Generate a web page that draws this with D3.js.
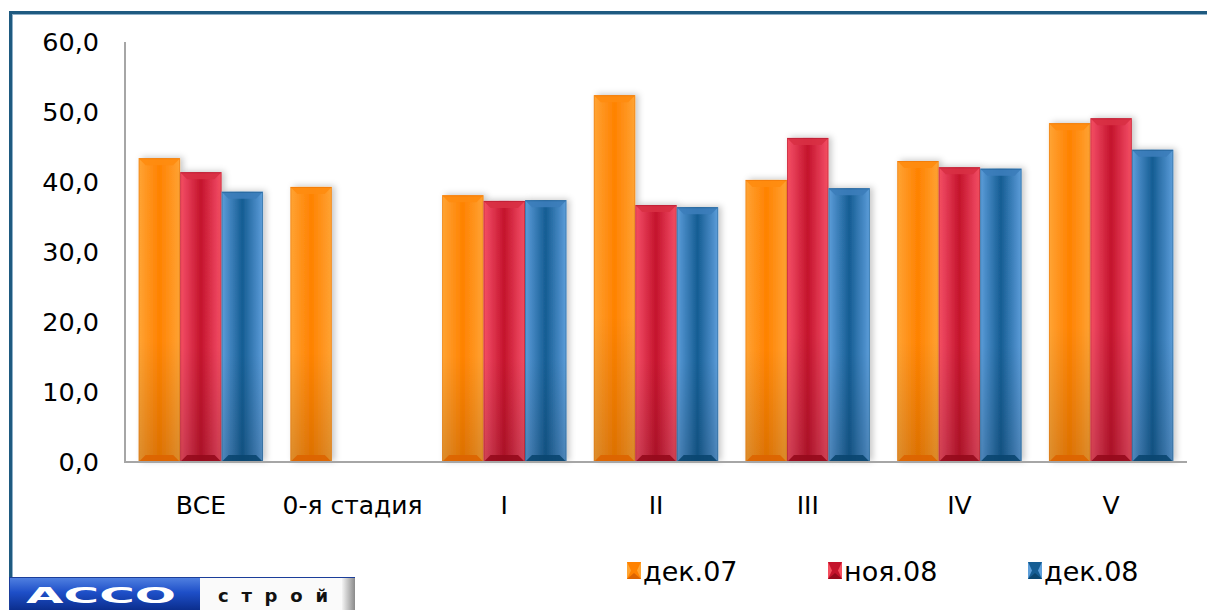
<!DOCTYPE html>
<html>
<head>
<meta charset="utf-8">
<script src="https://cdn.jsdelivr.net/npm/d3@7"></script>
<style>
  html, body { margin: 0; padding: 0; background: #fff; }
  svg { display: block; }
  text { font-family: "DejaVu Sans", Verdana, sans-serif; }
</style>
</head>
<body>
<svg id="chart" width="1207" height="610"></svg>
<script>
// Categories and series values
const categories = ["ВСЕ", "0-я стадия", "I", "II", "III", "IV", "V"];
const seriesNames = ["дек.07", "ноя.08", "дек.08"];
const dec07 = [43.4, 39.3, 38.1, 52.4, 40.3, 43.0, 48.4];
const nov08 = [41.4, null, 37.3, 36.7, 46.3, 42.1, 49.1];
const dec08 = [38.6, null, 37.4, 36.4, 39.1, 41.9, 44.6];
const yTicks = [0, 10, 20, 30, 40, 50, 60];

const seriesValues = [dec07, nov08, dec08];
const palette = [
  { edge: "#FFA533", mid: "#FF8200", top: "#FF8C10", bottom: "#DD6400", side: "#FF9A28" },
  { edge: "#F5505F", mid: "#C4142C", top: "#D83044", bottom: "#960A1C", side: "#E8405A" },
  { edge: "#5E9FDA", mid: "#155D93", top: "#3C7DBA", bottom: "#0A4670", side: "#4A8CC8" }
];

const svg = d3.select("#chart");
const defs = svg.append("defs");

// Beveled-bar gradients
palette.forEach((c, i) => {
  const g = defs.append("linearGradient").attr("id", "hg" + i)
    .attr("x1", "0").attr("x2", "1").attr("y1", "0").attr("y2", "0");
  g.append("stop").attr("offset", "0").attr("stop-color", c.edge);
  g.append("stop").attr("offset", "0.13").attr("stop-color", c.side);
  g.append("stop").attr("offset", "0.5").attr("stop-color", c.mid);
  g.append("stop").attr("offset", "0.87").attr("stop-color", c.side);
  g.append("stop").attr("offset", "1").attr("stop-color", c.edge);
  const v = defs.append("linearGradient").attr("id", "vg" + i)
    .attr("x1", "0").attr("x2", "0").attr("y1", "0").attr("y2", "1");
  v.append("stop").attr("offset", "0").attr("stop-color", "#fff").attr("stop-opacity", 0.0);
  v.append("stop").attr("offset", "0.6").attr("stop-color", "#000").attr("stop-opacity", 0.0);
  v.append("stop").attr("offset", "1").attr("stop-color", "#000").attr("stop-opacity", 0.14);
});
const shadow = defs.append("filter").attr("id", "shadow")
  .attr("x", "-30%").attr("y", "-10%").attr("width", "160%").attr("height", "120%");
shadow.append("feDropShadow").attr("dx", 3).attr("dy", -1)
  .attr("stdDeviation", 3).attr("flood-color", "#000").attr("flood-opacity", 0.22);

// Frame
svg.append("rect").attr("x", 10).attr("y", 11).attr("width", 1200).attr("height", 3).attr("fill", "#1E5A80");
svg.append("rect").attr("x", 13).attr("y", 14).attr("width", 1197).attr("height", 1).attr("fill", "#8FB0C8");
svg.append("rect").attr("x", 9).attr("y", 11).attr("width", 3).attr("height", 580).attr("fill", "#1E5A80");
svg.append("rect").attr("x", 12).attr("y", 14).attr("width", 1).attr("height", 577).attr("fill", "#8FB0C8");

// Scales
const plotLeft = 125, plotRight = 1187, plotTop = 42, plotBottom = 462;
const y = d3.scaleLinear().domain([0, 60]).range([plotBottom, plotTop]);
const x0 = d3.scaleBand().domain(categories).range([plotLeft, plotRight])
  .paddingInner(0.18).paddingOuter(0.09);
const x1 = d3.scaleBand().domain(d3.range(seriesNames.length)).range([0, x0.bandwidth()]);

// Y axis tick labels
const yAxis = d3.axisLeft(y).tickValues(yTicks).tickSize(0).tickPadding(26)
  .tickFormat(d => d3.format(".1f")(d).replace(".", ","));
const ya = svg.append("g").attr("transform", `translate(${plotLeft},0)`).call(yAxis);
ya.select(".domain").remove();
ya.selectAll("text").attr("font-size", 25.5).attr("fill", "#000")
  .attr("font-family", "DejaVu Sans, Verdana, sans-serif");

// Bars
const barsG = svg.append("g");
categories.forEach((cat, ci) => {
  seriesValues.forEach((vals, si) => {
    const v = vals[ci];
    if (v == null) return;
    const bx = x0(cat) + x1(si), bw = x1.bandwidth();
    const by = y(v), bh = y(0) - y(v);
    const c = palette[si];
    const g = barsG.append("g");
    g.append("rect").attr("x", bx).attr("y", by).attr("width", bw).attr("height", bh)
      .attr("fill", `url(#hg${si})`).attr("filter", "url(#shadow)");
    g.append("rect").attr("x", bx).attr("y", by).attr("width", bw).attr("height", bh)
      .attr("fill", `url(#vg${si})`);
    const b = Math.min(7, bh / 2);
    g.append("polygon")
      .attr("points", [[bx, by], [bx + bw, by], [bx + bw - b, by + b], [bx + b, by + b]].join(" "))
      .attr("fill", c.top).attr("opacity", 0.9);
    g.append("polygon")
      .attr("points", [[bx, by + bh], [bx + bw, by + bh], [bx + bw - b, by + bh - b], [bx + b, by + bh - b]].join(" "))
      .attr("fill", c.bottom).attr("opacity", 0.9);
    g.append("rect").attr("x", bx + 0.5).attr("y", by + 0.5).attr("width", bw - 1).attr("height", bh - 1)
      .attr("fill", "none").attr("stroke", c.bottom).attr("stroke-opacity", 0.35).attr("stroke-width", 1);
  });
});

// Axis lines
svg.append("line").attr("x1", plotLeft).attr("x2", plotLeft).attr("y1", plotTop).attr("y2", plotBottom)
  .attr("stroke", "#A6A6A6").attr("stroke-width", 2);
svg.append("line").attr("x1", plotLeft - 1).attr("x2", plotRight).attr("y1", plotBottom).attr("y2", plotBottom)
  .attr("stroke", "#A6A6A6").attr("stroke-width", 2);

// Category labels
const xAxis = d3.axisBottom(x0).tickSize(0).tickPadding(34);
const xa = svg.append("g").attr("transform", `translate(0,${plotBottom})`).call(xAxis);
xa.select(".domain").remove();
xa.selectAll("text").attr("font-size", 25).attr("fill", "#000")
  .attr("font-family", "DejaVu Sans, Verdana, sans-serif");

// Legend
const legendX = [627, 828, 1028];
const legend = svg.append("g");
seriesNames.forEach((name, i) => {
  const c = palette[i];
  const lx = legendX[i], ly = 562;
  legend.append("rect").attr("x", lx).attr("y", ly).attr("width", 14).attr("height", 17).attr("fill", c.mid);
  legend.append("polygon").attr("points", [[lx, ly], [lx + 4, ly + 8.5], [lx, ly + 17]].join(" ")).attr("fill", c.edge);
  legend.append("polygon").attr("points", [[lx + 14, ly], [lx + 10, ly + 8.5], [lx + 14, ly + 17]].join(" ")).attr("fill", c.edge);
  legend.append("polygon").attr("points", [[lx, ly + 17], [lx + 14, ly + 17], [lx + 7, ly + 11]].join(" ")).attr("fill", c.bottom);
  legend.append("text").attr("x", lx + 16).attr("y", ly + 19).attr("font-size", 27).attr("fill", "#000").text(name);
});

// Logo strip
const logo = svg.append("g");
const lgBlue = defs.append("linearGradient").attr("id", "logoBlue").attr("x1", 0).attr("x2", 0).attr("y1", 0).attr("y2", 1);
lgBlue.append("stop").attr("offset", 0).attr("stop-color", "#4F7FE0");
lgBlue.append("stop").attr("offset", 0.45).attr("stop-color", "#1E4FC8");
lgBlue.append("stop").attr("offset", 1).attr("stop-color", "#0B2E8E");
const lgGray = defs.append("linearGradient").attr("id", "logoGray").attr("x1", 0).attr("x2", 1).attr("y1", 0).attr("y2", 0);
lgGray.append("stop").attr("offset", 0).attr("stop-color", "#F4F4F4");
lgGray.append("stop").attr("offset", 1).attr("stop-color", "#8A8A8A");
logo.append("rect").attr("x", 9).attr("y", 577).attr("width", 346).attr("height", 33).attr("fill", "#1B3E9A");
logo.append("rect").attr("x", 10).attr("y", 578).attr("width", 190).attr("height", 32).attr("fill", "url(#logoBlue)");
logo.append("rect").attr("x", 200).attr("y", 578).attr("width", 142).attr("height", 32).attr("fill", "#FAFAFA");
logo.append("rect").attr("x", 342).attr("y", 578).attr("width", 13).attr("height", 32).attr("fill", "url(#logoGray)");
logo.append("text").attr("x", 26).attr("y", 603).attr("font-size", 22).attr("font-weight", "bold")
  .attr("fill", "#fff").attr("textLength", 150).attr("lengthAdjust", "spacingAndGlyphs").text("АССО");
logo.append("text").attr("x", 218).attr("y", 602).attr("font-size", 18).attr("font-weight", "bold")
  .attr("fill", "#111").attr("textLength", 110).attr("lengthAdjust", "spacing").text("строй");
</script>
</body>
</html>
